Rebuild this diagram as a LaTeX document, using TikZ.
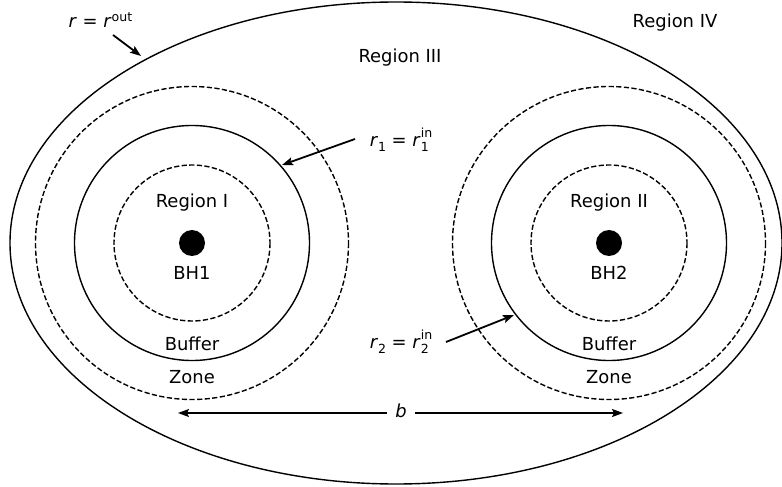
\documentclass[tikz,border=0pt]{standalone}
\usepackage{fontspec}
\setmainfont{DejaVu Sans}
\usetikzlibrary{arrows.meta}
\newcommand{\mvar}[1]{\textit{#1}}
\newcommand{\smallidx}[1]{{\fontsize{12.6}{14}\selectfont #1}}
\newcommand{\supout}[1]{\raisebox{6.5bp}{\smallidx{#1}}}
\newcommand{\subsup}[2]{\rlap{\raisebox{9bp}{\smallidx{#2}}}\raisebox{-5bp}{\smallidx{#1}}}
\newcommand{\subonly}[1]{\raisebox{-5bp}{\smallidx{#1}}}
\begin{document}
\begin{tikzpicture}[x=1bp,y=-1bp,
  font=\fontsize{18}{21}\selectfont,
  solidring/.style={line width=1.4bp},
  dashring/.style={line width=1.4bp, dash pattern=on 5.2bp off 2.4bp},
  pointer/.style={line width=1.8bp, -{Stealth[length=11bp,width=8bp,inset=2bp]}},
  txt/.style={inner sep=0pt},
  hole/.style={circle, fill=black, minimum size=26bp, inner sep=0pt}]
\useasboundingbox (0,0) rectangle (782,487);

% centres
\coordinate (c0) at (396,243);
\coordinate (c1) at (192,243);
\coordinate (c2) at (609,243);

% outer boundary
\draw[solidring] (c0) ellipse [x radius=386, y radius=241];

% left system
\draw[dashring] (c1) circle [radius=156.5];
\draw[solidring] (c1) circle [radius=117.5];
\draw[dashring] (c1) circle [radius=78];
\node[hole] (bh1) at (c1) {};

% right system
\draw[dashring] (c2) circle [radius=156.5];
\draw[solidring] (c2) circle [radius=117.5];
\draw[dashring] (c2) circle [radius=78];
\node[hole] (bh2) at (c2) {};

% region labels
\node[txt] (reg1) at (192,202.5) {Region I};
\node[txt] (bh1lab) at (192,273) {BH1};
\node[txt] (buf1) at (192,344) {Buffer};
\node[txt] (zone1) at (192,377) {Zone};
\node[txt] (reg2) at (609,202.5) {Region II};
\node[txt] (bh2lab) at (609,273) {BH2};
\node[txt] (buf2) at (609,344) {Buffer};
\node[txt] (zone2) at (609,377) {Zone};
\node[txt] (reg3) at (400,57.5) {Region III};
\node[txt] (reg4) at (675,22.5) {Region IV};

% radius labels and pointers
\node[txt, anchor=base] (rout) at (100.5,28) {\mvar{r} = \mvar{r}\supout{out}};
\coordinate (routS) at (113,35);
\coordinate (routT) at (141,56);
\draw[pointer] (routS) -- (routT);

\node[txt, anchor=base] (r1) at (401,147) {\mvar{r}\subonly{1} = \mvar{r}\subsup{1}{in}\hphantom{\smallidx{i}}};
\coordinate (r1S) at (355,139);
\coordinate (r1T) at (282,165);
\draw[pointer] (r1S) -- (r1T);

\node[txt, anchor=base] (r2) at (401,348) {\mvar{r}\subonly{2} = \mvar{r}\subsup{2}{in}\hphantom{\smallidx{i}}};
\coordinate (r2S) at (446,342);
\coordinate (r2T) at (514,315);
\draw[pointer] (r2S) -- (r2T);

% separation
\node[inner xsep=8bp, inner ysep=0pt, anchor=base] (b) at (401,417) {\mvar{b}};
\coordinate (bL) at (178,413);
\coordinate (bR) at (623,413);
\draw[pointer] (b.west |- bL) -- (bL);
\draw[pointer] (b.east |- bR) -- (bR);
\end{tikzpicture}
\end{document}
